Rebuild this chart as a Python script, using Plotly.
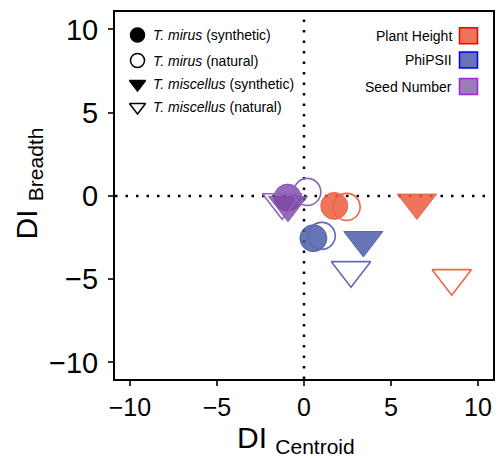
import plotly.graph_objects as go

traits = ["Plant Height", "PhiPSII", "Seed Number"]
fill_colors = ["rgba(236,92,60,0.85)", "rgba(70,85,165,0.82)", "rgba(125,70,165,0.8)"]
line_colors = ["rgba(240,100,75,1)", "rgba(95,108,178,1)", "rgba(140,100,185,1)"]
key_fill = ["#F07358", "#6673B5", "#9B7BB8"]
key_border = ["#FF0000", "#0000FF", "#A020F0"]

groups = ["T. mirus (synthetic)", "T. mirus (natural)",
          "T. miscellus (synthetic)", "T. miscellus (natural)"]
group_labels = ["<i>T. mirus</i> (synthetic)", "<i>T. mirus</i> (natural)",
                "<i>T. miscellus</i> (synthetic)", "<i>T. miscellus</i> (natural)"]
group_symbols = ["circle", "circle-open", "triangle-down", "triangle-down-open"]

mirus_syn_x = [1.74, 0.54, -0.94]
mirus_syn_y = [-0.60, -2.54, -0.10]
mirus_nat_x = [2.45, 1.02, 0.19]
mirus_nat_y = [-0.66, -2.40, 0.24]
misc_syn_x = [6.49, 3.41, -0.92]
misc_syn_y = [-0.40, -2.65, -0.53]
misc_nat_x = [8.49, 2.70, -1.26]
misc_nat_y = [-4.94, -4.46, -0.38]

xs = [mirus_syn_x, mirus_nat_x, misc_syn_x, misc_nat_x]
ys = [mirus_syn_y, mirus_nat_y, misc_syn_y, misc_nat_y]

x_ticks = [-10, -5, 0, 5, 10]
y_ticks = [-10, -5, 0, 5, 10]
tick_text = ["\u221210", "\u22125", "0", "5", "10"]

# the page body has an 8px margin: lay the figure out in screen pixels minus it
OFF = 8
W, H = 503 - OFF, 458 - OFF
left, right, top, bottom = 115.0 - OFF, 493.0 - OFF, 12.0 - OFF, 379.0 - OFF
pw, ph = right - left, bottom - top


def px_x(p):
    return (p - OFF - left) / pw


def px_y(p):
    return (bottom - (p - OFF)) / ph


fig = go.Figure()

# draw order: filled triangles, filled circles, open circles, open triangles
order = [2, 0, 1, 3]
for g in order:
    sym = group_symbols[g]
    is_tri = "triangle" in sym
    is_open = "open" in sym
    size = 34 if is_tri else 27
    for i, t in enumerate(traits):
        if is_open:
            marker = dict(symbol=sym, size=size, color=line_colors[i],
                          line=dict(width=1.6, color=line_colors[i]))
        else:
            marker = dict(symbol=sym, size=size, color=fill_colors[i],
                          line=dict(width=1, color=fill_colors[i]))
        fig.add_trace(go.Scatter(x=[xs[g][i]], y=[ys[g][i]], mode="markers",
                                 marker=marker, showlegend=False,
                                 name=f"{groups[g]} - {t}"))

# shape legend (black keys) on an overlay axis spanning the plot area
leg_rows = [35.0, 60.5, 84.0, 107.0]
leg_sizes = [14, 14, 14, 14]
for g in range(4):
    fig.add_trace(go.Scatter(
        x=[px_x(137.5)], y=[px_y(leg_rows[g])], xaxis="x2", yaxis="y2",
        mode="markers", showlegend=False, hoverinfo="skip",
        marker=dict(symbol=group_symbols[g], size=leg_sizes[g], color="black",
                    line=dict(width=1.5, color="black"))))
    fig.add_annotation(xref="paper", yref="paper", x=px_x(151), y=px_y(leg_rows[g]),
                       text=group_labels[g], showarrow=False, xanchor="left",
                       yanchor="middle", font=dict(size=14, color="black"))

# reference lines at zero
fig.add_shape(type="line", xref="x", yref="paper", x0=0, x1=0, y0=0, y1=1,
              line=dict(color="black", width=2.5, dash="2.5px,8px"), layer="below")
fig.add_shape(type="line", xref="paper", yref="y", x0=0, x1=1, y0=0, y1=0,
              line=dict(color="black", width=2.5, dash="2.5px,8px"), layer="below")

# colour legend (text + key on the right)
key_y = [35.8, 60.0, 86.5]
for i, t in enumerate(traits):
    yp = px_y(key_y[i])
    hh = 8.0 / ph
    fig.add_shape(type="rect", xref="paper", yref="paper", x0=px_x(459.5),
                  x1=px_x(477.5), y0=yp - hh, y1=yp + hh, fillcolor=key_fill[i],
                  line=dict(color=key_border[i], width=1.5))
    fig.add_annotation(xref="paper", yref="paper", x=px_x(454), y=yp, text=t,
                       showarrow=False, xanchor="right", yanchor="middle",
                       font=dict(size=14, color="black"))

# axis titles
fig.add_annotation(xref="paper", yref="paper", x=px_x(296), y=px_y(440),
                   text="DI <sub>Centroid</sub>", showarrow=False,
                   xanchor="center", yanchor="middle", font=dict(size=30, color="black"))
fig.add_annotation(xref="paper", yref="paper", x=px_x(28), y=px_y(183.5),
                   text="DI <sub>Breadth</sub>", showarrow=False, textangle=-90,
                   xanchor="center", yanchor="middle", font=dict(size=30, color="black"))

fig.update_layout(
    width=W, height=H,
    margin=dict(l=left, r=W - right, t=top, b=H - bottom, autoexpand=False),
    paper_bgcolor="white", plot_bgcolor="white",
    font=dict(family="Arial, Liberation Sans, sans-serif", color="black"),
    showlegend=False,
    xaxis=dict(range=[-10.86, 10.86], tickvals=x_ticks, ticktext=tick_text,
               showgrid=False, zeroline=False, showline=True, mirror=True,
               linecolor="black", linewidth=2, ticks="outside", ticklen=5,
               tickwidth=1.5, tickcolor="#333", automargin=False,
               tickfont=dict(size=25, color="black")),
    yaxis=dict(range=[-11.0, 11.05], tickvals=y_ticks, ticktext=tick_text,
               showgrid=False, zeroline=False, showline=True, mirror=True,
               linecolor="black", linewidth=2, ticks="outside", ticklen=5,
               tickwidth=1.5, tickcolor="#333", automargin=False,
               ticklabelstandoff=4,
               tickfont=dict(size=29, color="black")),
    xaxis2=dict(range=[0, 1], overlaying="x", visible=False, fixedrange=True),
    yaxis2=dict(range=[0, 1], overlaying="y", visible=False, fixedrange=True),
)

fig.write_html("out.html")
